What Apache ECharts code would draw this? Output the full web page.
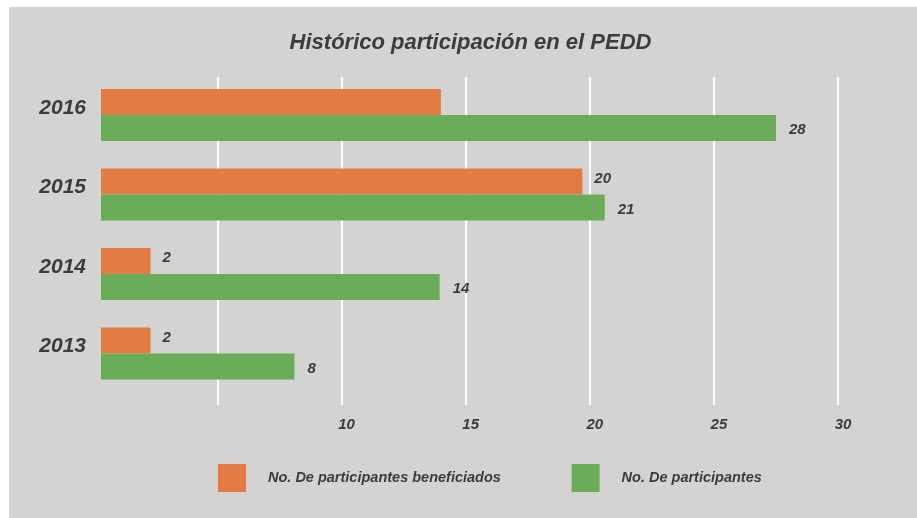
<!DOCTYPE html>
<html>
<head>
<meta charset="utf-8">
<script src="https://cdn.jsdelivr.net/npm/echarts@6/dist/echarts.min.js"></script>
<style>
  html, body { margin: 0; padding: 0; background: #ffffff; width: 917px; height: 518px; overflow: hidden; }
  #chart { position: absolute; left: 9px; top: 7px; width: 908px; height: 511px; }
</style>
</head>
<body>
<div id="chart"></div>
<script>
// ---- data (top to bottom as drawn) ----
const years = ['2016', '2015', '2014', '2013'];
const beneficiados = [14.0, 19.7, 2.3, 2.3];
const participantes = [27.5, 20.6, 13.95, 8.1];
const beneficiadosLabels = ['', '20', '2', '2'];
const participantesLabels = ['28', '21', '14', '8'];
const xTickLabels = ['10', '15', '20', '25', '30'];
const seriesNames = ['No. De participantes beneficiados', 'No. De participantes'];
const titleText = 'Histórico participación en el PEDD';

const ORANGE = '#e27c43';
const GREEN = '#69ad59';
const TEXT = '#3c3c3e';
const FONT = 'Liberation Sans';

const chart = echarts.init(document.getElementById('chart'), null, { renderer: 'canvas' });

const option = {
  backgroundColor: '#d4d3d1',
  animation: false,
  title: {
    text: titleText,
    left: 456.5,
    top: 20,
    textAlign: 'center',
    textStyle: { fontFamily: FONT, fontSize: 22, fontWeight: 'bold', fontStyle: 'italic', color: TEXT }
  },
  legend: [
    {
      data: [seriesNames[0]],
      left: 209, top: 457, padding: 0,
      itemWidth: 28, itemHeight: 28, icon: 'rect',
      textStyle: { fontFamily: FONT, fontSize: 14.5, fontWeight: 'bold', fontStyle: 'italic', color: TEXT, padding: [0, 0, 0, 17] }
    },
    {
      data: [seriesNames[1]],
      left: 562.6, top: 457, padding: 0,
      itemWidth: 28, itemHeight: 28, icon: 'rect',
      textStyle: { fontFamily: FONT, fontSize: 14.5, fontWeight: 'bold', fontStyle: 'italic', color: TEXT, padding: [0, 0, 0, 17] }
    }
  ],
  grid: [
    { left: 84.4, width: 744.6, top: 70, height: 328, containLabel: false },
    { left: 92, width: 737, top: 68.25, height: 318, containLabel: false }
  ],
  xAxis: [
    {
      gridIndex: 0, type: 'value', min: 0, max: 30, interval: 5,
      axisLine: { show: false }, axisTick: { show: false },
      splitLine: { show: true, showMinLine: false, lineStyle: { color: '#ffffff', width: 2 } },
      axisLabel: {
        margin: 12, fontFamily: FONT, fontSize: 15, fontWeight: 'bold', fontStyle: 'italic', color: TEXT,
        padding: [0, 0, 0, 10],
        formatter: function (v) { return xTickLabels.indexOf(String(v)) >= 0 ? String(v) : ''; }
      }
    },
    {
      gridIndex: 1, type: 'value', min: 0.306, max: 30, show: false,
      splitLine: { show: false }
    }
  ],
  yAxis: [
    { gridIndex: 0, type: 'category', data: years, show: false },
    {
      gridIndex: 1, type: 'category', data: years, inverse: true,
      axisLine: { show: false }, axisTick: { show: false }, splitLine: { show: false },
      axisLabel: {
        margin: 15, fontFamily: FONT, fontSize: 21, fontWeight: 'bold', fontStyle: 'italic', color: TEXT,
        verticalAlign: 'bottom', lineHeight: 14
      }
    }
  ],
  series: [
    {
      name: seriesNames[0], type: 'bar', xAxisIndex: 1, yAxisIndex: 1,
      data: beneficiados, barWidth: 26, barGap: '0%',
      itemStyle: { color: ORANGE },
      label: {
        show: true, position: 'right', distance: 12, offset: [0, -3],
        fontFamily: FONT, fontSize: 15, fontWeight: 'bold', fontStyle: 'italic', color: TEXT,
        formatter: function (p) { return beneficiadosLabels[p.dataIndex]; }
      }
    },
    {
      name: seriesNames[1], type: 'bar', xAxisIndex: 1, yAxisIndex: 1,
      data: participantes, barWidth: 26, barGap: '0%',
      itemStyle: { color: GREEN },
      label: {
        show: true, position: 'right', distance: 13, offset: [0, 2],
        fontFamily: FONT, fontSize: 15, fontWeight: 'bold', fontStyle: 'italic', color: TEXT,
        formatter: function (p) { return participantesLabels[p.dataIndex]; }
      }
    }
  ]
};
chart.setOption(option);
</script>
</body>
</html>
